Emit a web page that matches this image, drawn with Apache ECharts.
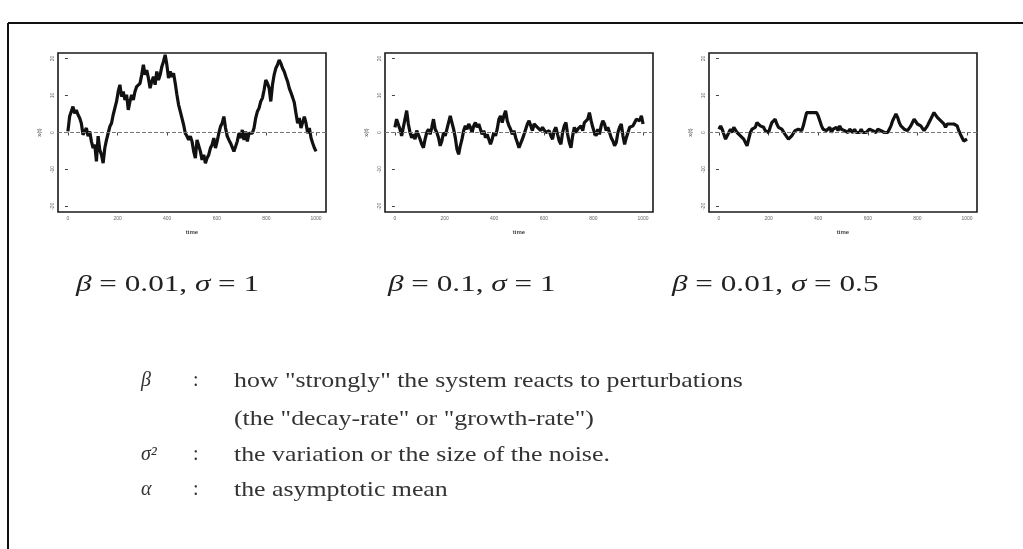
<!DOCTYPE html>
<html>
<head>
<meta charset="utf-8">
<script src="https://cdn.jsdelivr.net/npm/echarts@6/dist/echarts.min.js"></script>
<style>
  html, body { margin: 0; padding: 0; background: #fff; }
  #chart { width: 1023px; height: 549px; }
</style>
</head>
<body>
<div id="chart"></div>
<script>
// tick labels shared by the three panels
const timeTicks = [0, 200, 400, 600, 800, 1000];
const levelTicks = [-20, -10, 0, 10, 20];

// panel captions
const captions = [
  '{i|β} = 0.01, {i|σ} = 1',
  '{i|β} = 0.1, {i|σ} = 1',
  '{i|β} = 0.01, {i|σ} = 0.5'
];

// x(t), evenly spaced over time 0..1000
const path1 = [
  0.3, 4.3, 5.7, 7, 5.2, 6.1, 4.8, 3.9, 2.5, -0.6, 0.3, 1.2, -1, 0.3, -2.4,
  -4.2, -3.3, -7.8, -1, -4.7, -6, -8.3, -4.2, -2, -0.2, 1.6, 2.5, 4.8, 6.6, 8.4,
  11.1, 12.9, 9.7, 11.1, 8.8, 10.2, 6.1, 8.4, 10.2, 8.8, 11.1, 12.4, 12.9, 13.3, 15.6,
  18.3, 15.6, 16.9, 14.7, 12, 13.8, 15.1, 12.9, 16.5, 14.2, 15.6, 17.8, 19.2, 21, 18.3,
  14.7, 16.5, 15.1, 16, 13.3, 10.2, 7.5, 5.7, 3.9, 2.1, -0.2, -1,
  -2, -1, -2.4, -5.1, -6.9, -2, -2.4, -5.1, -7.4, -6, -8.3, -6.9, -6, -4.2, -3.3,
  -1.5, -4.2, -2.4, -0.2, 1.6, 2.5, 4.3, 1.2, -1, -2, -2.9, -3.3, -5.1, -3.8, -2.4,
  -0.2, -1.5, 0.7, -2, 0.3, -2.4, -0.2, -0.6, -0.2, 1.2, 3.9, 5.7, 6.6, 8.4, 9.3,
  11.5, 14.2, 13.3, 12, 8.4, 12.9, 15.6, 17.4, 18.3, 19.6, 18.7, 17.4, 16.5, 15.1, 13.8,
  12, 10.8, 9.5, 8.1, 5.2, 2.5, 3.9, 1.2, 1.6, 4.3, 2.5, -0.2, 1.2, -1.5, -2.9,
  -4.2, -5.1
];
const path2 = [
  1.4, 3.6, 3.2, 0.9, -0.9, 1.4, 3.6, 5.9, 2.3, 0, -1.4, -0.5, -1.8, 0.5, 0,
  -1.8, -3.2, -4.1, -1.8, 0, 0.9, -0.5, 1.4, 3.6, 0.9, 0, -1.4, -3.6, -2.3, 0,
  -0.9, 0.9, 1.4, 4.5, 2.7, 0.9, -1.4, -4.5, -5.9, -3.6, -1.8, 0.5, 1.8, 0.9, 2.3,
  1.4, 0, 1.8, 2.7, 1.4, 2.3, 0.9, -0.5, 0.5, -1.4, -0.5, -1.8, -3.2, -1.8, 0,
  -0.9, 0.9, 3.6, 4.5, 2.7, 4.5, 5.9, 3.2, 1.8, 0.9, -0.5, 0.5, -1.4, -2.7, -4.1,
  -3.6, -1.8, -0.5, 0.9, 2.3, 3.2, 1.8, 0.5, 2.3, 2.7, 1.4, 1.8, 0.5, 1.4, 0.9,
  0, -0.5, 0.5, -0.9, -1.8, 0.5, 1.4, -0.5, -2.3, -3.2, 0, 1.8, 2.7, -0.5, -2.7,
  -4.1, -0.9, 1.4, 0, 0.9, 1.4, 1.8, 0.5, 2.7, 2.3, 3.6, 5.4, 3.2, 1.4, 0,
  -0.9, 0.9, -0.5, 1.8, 3.2, 2.3, 0.5, 1.4, 0, -1.4, -2.3, -3.6, -2.7, 0, 1.4,
  2.3, -0.9, -3.2, -1.4, 0, 1.4, 0.9, 1.8, 2.7, 3.6, 4.1, 3.2, 4.5, 2.3
];
const path3 = [
  0.9, 1.8, 0.9, -0.5, -1.8, -1.4, 0, 0.9, 0, 1.4, 0.9, 0, 0.5, -0.9, -0.5,
  -1.8, -2.7, -3.6, -1.8, 0, 0.9, 0.5, 1.4, 2.7, 3.2, 1.8, 2.3, 1.4, 0.5, 0.9,
  0, 1.4, 2.7, 3.2, 3.6, 2.3, 1.4, 1.8, 0.9, 0.5, -0.5, -0.9, -1.8, -2.3, -0.9,
  -0.5, 0.5, 0, 0.9, 1.4, 0.5, 1.8, 3.6, 5.4, 5.9, 5.4, 5, 5.4, 5, 5.4,
  4.5, 3.2, 1.8, 0.9, 1.4, 0.5, 0.9, 1.4, 0, 0.9, 0.5, 1.4, 0.5, 1.8, 0.9,
  0.9, 0.5, 0.9, 0, 0.9, 0.5, 0, 0.9, 0, 0.5, 0, 0.9, 0, 0.5, 0,
  0.5, 0.9, 1.4, 0.5, 0.9, 0, 0.9, 1.4, 0.5, 0.9, 0, -0.5, 0, 0.9, 1.8,
  3.2, 4.1, 5, 4.1, 2.7, 1.8, 1.4, 0.9, 1.4, 0.5, 0.9, 1.8, 2.7, 3.6, 3.2,
  2.3, 2.7, 1.8, 1.4, 0.5, 0.9, 1.8, 2.7, 3.6, 4.5, 5.4, 5, 4.1, 3.6, 3.2,
  2.7, 2.3, 1.4, 2.3, 2.7, 2.3, 2.7, 2.3, 2.7, 1.8, 0.5, -0.5, -1.4, -2.3, -1.8,
  -1.8
];

// legend of symbols under the panels
const defTerms = ['β', '', 'σ²', 'α'];
const defTexts = [
  'how "strongly" the system reacts to perturbations',
  '(the "decay-rate" or "growth-rate")',
  'the variation or the size of the noise.',
  'the asymptotic mean'
];

const paths = [path1, path2, path3];
const panelLeft = [58, 385, 709];
const serif = '"Liberation Serif", "DejaVu Serif", serif';

const chart = echarts.init(document.getElementById('chart'));

const grids = panelLeft.map(left => ({
  left: left, top: 53, width: 268, height: 159,
  show: true, borderColor: '#1a1a1a', borderWidth: 1.6
}));

const xAxes = paths.map((p, i) => ({
  type: 'value', gridIndex: i, min: -40, max: 1040,
  axisLine: { show: false },
  axisTick: { show: true, customValues: timeTicks, length: 3, lineStyle: { color: '#444' } },
  axisLabel: { show: true, customValues: timeTicks, fontSize: 5, margin: 4, color: '#666', formatter: v => String(v) },
  splitLine: { show: false },
  name: 'time', nameLocation: 'middle', nameGap: 17,
  nameTextStyle: { fontSize: 6, fontWeight: 'bold', color: '#444' }
}));

const yAxes = paths.map((p, i) => ({
  type: 'value', gridIndex: i, min: -21.5, max: 21.5,
  axisLine: { show: false },
  axisTick: { show: true, customValues: levelTicks, length: 3, lineStyle: { color: '#444' } },
  axisLabel: { show: true, customValues: levelTicks, fontSize: 5, margin: 3, rotate: 90, color: '#666' },
  splitLine: { show: false },
  name: 'x(t)', nameLocation: 'middle', nameGap: 16, nameRotate: 90,
  nameTextStyle: { fontSize: 6, color: '#444' }
}));

const series = paths.map((p, i) => ({
  type: 'line', xAxisIndex: i, yAxisIndex: i,
  data: p.map((v, k) => [k * 1000 / (p.length - 1), v]),
  showSymbol: false,
  lineStyle: { color: '#111', width: 3.2 },
  markLine: {
    silent: true, symbol: 'none', label: { show: false },
    lineStyle: { color: '#777', type: 'dashed', width: 1 },
    data: [{ yAxis: 0 }]
  }
}));

const graphic = [
  // slide frame
  { type: 'line', shape: { x1: 8, y1: 23, x2: 1023, y2: 23 }, style: { stroke: '#111', lineWidth: 2 } },
  { type: 'line', shape: { x1: 8, y1: 23, x2: 8, y2: 549 }, style: { stroke: '#111', lineWidth: 2 } }
];

const captionX = [76, 388, 672];
captions.forEach((c, i) => {
  graphic.push({
    type: 'text', x: captionX[i], y: 285, scaleX: 1.3,
    style: {
      text: c, fontFamily: serif, fontSize: 24, fill: '#222',
      verticalAlign: 'middle',
      rich: { i: { fontFamily: serif, fontSize: 24, fontStyle: 'italic', fill: '#222' } }
    }
  });
});

const defY = [381, 419, 455, 490];
defTexts.forEach((t, i) => {
  if (defTerms[i]) {
    graphic.push({
      type: 'text', x: 141, y: defY[i],
      style: { text: defTerms[i], fontFamily: serif, fontSize: 20, fontStyle: 'italic', fill: '#333', verticalAlign: 'middle' }
    });
    graphic.push({
      type: 'text', x: 193, y: defY[i],
      style: { text: ':', fontFamily: serif, fontSize: 20, fill: '#333', verticalAlign: 'middle' }
    });
  }
  graphic.push({
    type: 'text', x: 234, y: defY[i], scaleX: 1.23,
    style: { text: t, fontFamily: serif, fontSize: 21, fill: '#333', verticalAlign: 'middle' }
  });
});

chart.setOption({
  animation: false,
  backgroundColor: '#fff',
  grid: grids,
  xAxis: xAxes,
  yAxis: yAxes,
  series: series,
  graphic: graphic
});
</script>
</body>
</html>
